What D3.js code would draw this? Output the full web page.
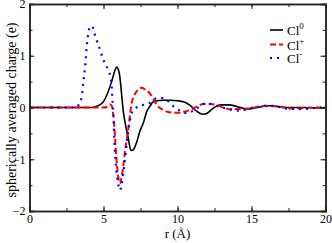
<!DOCTYPE html>
<html>
<head>
<meta charset="utf-8">
<script src="https://cdn.jsdelivr.net/npm/d3@7"></script>
<style>
  body { margin: 0; background: #fff; }
  text { font-family: "Liberation Serif", "DejaVu Serif", serif; fill: #000; }
</style>
</head>
<body>
<svg id="chart" width="332" height="243"></svg>
<script>
// charge curves
var rNeutral = [0,4.2,4.5,4.8,4.99,5.32,5.55,5.78,5.89,6.07,6.23,6.34,6.45,6.68,6.85,7.0,7.24,7.47,7.69,7.92,8.15,8.36,8.6,9.0,9.5,10.0,10.4,10.8,11.2,11.5,11.74,12.0,12.3,12.65,13.0,13.5,14.0,14.7,15.4,16.25,17.4,18.5,19.6,20];
var qNeutral = [0,0,0.02,0.06,0.11,0.31,0.5,0.72,0.78,0.66,0.24,-0.08,-0.28,-0.6,-0.83,-0.82,-0.67,-0.45,-0.3,-0.08,0.03,0.11,0.13,0.14,0.14,0.13,0.11,0.05,-0.05,-0.11,-0.13,-0.11,-0.04,0.03,0.05,0.05,0.02,-0.03,0.0,0.035,0.0,0.0,-0.01,0];

var rCation = [0,5.0,5.3,5.44,5.56,5.64,5.74,5.86,5.98,6.1,6.22,6.34,6.45,6.55,6.68,6.8,6.9,7.05,7.24,7.58,7.8,8.14,8.4,8.6,9.0,9.27,9.7,10.17,10.6,11.07,11.4,11.74,12.2,12.65,13.1,13.56,14.1,14.7,15.2,15.8,16.4,17.0,17.8,18.6,19.3,20];
var qCation = [0,0,0.02,0.06,0.03,-0.1,-0.4,-0.95,-1.3,-1.47,-1.35,-1.12,-0.85,-0.65,-0.4,-0.12,0.08,0.22,0.31,0.38,0.35,0.27,0.15,0.05,-0.04,-0.08,-0.1,-0.1,-0.07,-0.02,0.03,0.07,0.07,0.05,0.0,-0.035,-0.03,-0.02,0.0,0.03,0.03,0.01,-0.02,-0.01,0.0,0];

var rAnion = [0,3.2,3.36,3.53,3.64,3.75,3.86,3.97,4.09,4.24,4.36,4.49,4.65,4.81,4.95,5.15,5.32,5.49,5.55,5.59,5.66,5.73,5.82,5.92,6.02,6.11,6.22,6.34,6.45,6.57,6.68,6.79,6.95,7.13,7.4,7.69,8.14,8.6,9.04,9.49,9.8,10.17,10.62,11.07,11.4,11.74,12.2,12.87,13.55,14.1,14.68,15.1,15.57,16.03,16.5,17.4,18.5,19.3,20];
var qAnion = [0,0,0.08,0.21,0.5,0.77,1.16,1.43,1.56,1.57,1.46,1.34,1.21,1.08,0.95,0.83,0.72,0.56,0.43,0.21,-0.11,-0.6,-1.05,-1.35,-1.52,-1.6,-1.5,-1.27,-1.0,-0.69,-0.45,-0.24,-0.08,-0.02,0.02,0.05,0.09,0.18,0.18,0.09,0.0,-0.06,-0.11,-0.06,0.0,0.07,0.07,0.01,-0.035,-0.06,-0.035,0.0,0.015,0.035,0.03,-0.02,-0.03,-0.01,0];

var xTicks = [0, 5, 10, 15, 20];
var yTicks = [-2, -1, 0, 1, 2];
var legendNames = ["0", "+", "-"];

var svg = d3.select("#chart");
var pLeft = 29.5, pRight = 325.5, pTop = 4, pBottom = 211;

var x = d3.scaleLinear().domain([0, 20]).range([pLeft, pRight]);
var y = d3.scaleLinear().domain([-2, 2]).range([pBottom, pTop]);

var series = [
  { r: rNeutral, q: qNeutral, color: "#000", dash: null, width: 1.6 },
  { r: rCation, q: qCation, color: "#f00", dash: "6,3", width: 2 },
  { r: rAnion, q: qAnion, color: "#00f", dash: "2,5", width: 2.2 }
];

var line = d3.line()
    .x(function(d) { return x(d[0]); })
    .y(function(d) { return y(d[1]); })
    .curve(d3.curveMonotoneX);

svg.append("g")
    .selectAll("path")
    .data(series)
    .enter().append("path")
    .attr("fill", "none")
    .attr("stroke", function(d) { return d.color; })
    .attr("stroke-width", function(d) { return d.width; })
    .attr("stroke-dasharray", function(d) { return d.dash; })
    .attr("d", function(d) { return line(d.r.map(function(v, i) { return [v, d.q[i]]; })); });

// frame with inward ticks on all four sides
var minorX = d3.range(0, 20.01, 2.5);
var minorY = d3.range(-2, 2.01, 0.5);

svg.append("g").attr("transform", "translate(0," + pBottom + ")")
    .call(d3.axisBottom(x).tickValues(minorX).tickSize(-3).tickFormat(""));
svg.append("g").attr("transform", "translate(0," + pBottom + ")")
    .call(d3.axisBottom(x).tickValues(xTicks).tickSize(-5).tickPadding(3).tickFormat(d3.format("d")));
svg.append("g").attr("transform", "translate(0," + pTop + ")")
    .call(d3.axisTop(x).tickValues(minorX).tickSize(-3).tickFormat(""));
svg.append("g").attr("transform", "translate(0," + pTop + ")")
    .call(d3.axisTop(x).tickValues(xTicks).tickSize(-5).tickFormat(""));

svg.append("g").attr("transform", "translate(" + pLeft + ",0)")
    .call(d3.axisLeft(y).tickValues(minorY).tickSize(-3).tickFormat(""));
svg.append("g").attr("transform", "translate(" + pLeft + ",0)")
    .call(d3.axisLeft(y).tickValues(yTicks).tickSize(-5).tickPadding(4).tickFormat(d3.format("d")));
svg.append("g").attr("transform", "translate(" + pRight + ",0)")
    .call(d3.axisRight(y).tickValues(minorY).tickSize(-3).tickFormat(""));
svg.append("g").attr("transform", "translate(" + pRight + ",0)")
    .call(d3.axisRight(y).tickValues(yTicks).tickSize(-5).tickFormat(""));

svg.selectAll(".domain").attr("stroke", "#222").attr("stroke-width", 1.5);
svg.selectAll(".tick line").attr("stroke", "#222");
svg.selectAll(".tick text")
    .style("font-family", "Liberation Serif")
    .style("font-size", "12px")
    .attr("fill", "#000");

svg.append("text")
    .attr("x", (pLeft + pRight) / 2)
    .attr("y", 238)
    .attr("text-anchor", "middle")
    .style("font-size", "13px")
    .text("r (Å)");

svg.append("text")
    .attr("transform", "translate(16,110) rotate(-90)")
    .attr("text-anchor", "middle")
    .style("font-size", "14px")
    .text("spherically averaged charge (e)");

// legend
var rows = svg.append("g").selectAll("g")
    .data(series)
    .enter().append("g")
    .attr("transform", function(d, i) { return "translate(270," + [30, 44.5, 58][i] + ")"; });

rows.append("line")
    .attr("x1", 0).attr("x2", 13)
    .attr("stroke", function(d) { return d.color; })
    .attr("stroke-width", function(d) { return d.width; })
    .attr("stroke-dasharray", function(d) { return d.dash; });

var labels = rows.append("text")
    .attr("x", 17)
    .attr("y", 5)
    .style("font-size", "13px")
    .text("Cl");
labels.append("tspan")
    .attr("dy", -6)
    .style("font-size", "9px")
    .text(function(d, i) { return legendNames[i]; });
</script>
</body>
</html>
